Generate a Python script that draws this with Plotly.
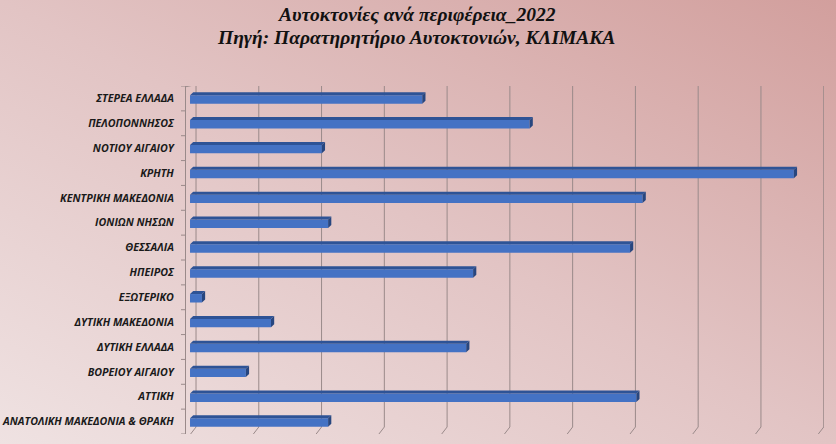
import base64
import plotly.graph_objects as go

# ---- data (top to bottom as in the chart) ----
regions = [
    "ΣΤΕΡΕΑ ΕΛΛΑΔΑ", "ΠΕΛΟΠΟΝΝΗΣΟΣ", "ΝΟΤΙΟΥ ΑΙΓΑΙΟΥ", "ΚΡΗΤΗ",
    "ΚΕΝΤΡΙΚΗ ΜΑΚΕΔΟΝΙΑ", "ΙΟΝΙΩΝ ΝΗΣΩΝ", "ΘΕΣΣΑΛΙΑ", "ΗΠΕΙΡΟΣ",
    "ΕΞΩΤΕΡΙΚΟ", "ΔΥΤΙΚΗ ΜΑΚΕΔΟΝΙΑ", "ΔΥΤΙΚΗ ΕΛΛΑΔΑ", "ΒΟΡΕΙΟΥ ΑΙΓΑΙΟΥ",
    "ΑΤΤΙΚΗ", "ΑΝΑΤΟΛΙΚΗ ΜΑΚΕΔΟΝΙΑ & ΘΡΑΚΗ",
]
values = [3.70, 5.41, 2.10, 9.62, 7.21, 2.20, 7.01, 4.51, 0.19, 1.29, 4.40, 0.89, 7.11, 2.20]
grid_values = [0, 1, 2, 3, 4, 5, 6, 7, 8, 9, 10]

title_line1 = "Αυτοκτονίες ανά περιφέρεια_2022"
title_line2 = "Πηγή: Παρατηρητήριο Αυτοκτονιών, ΚΛΙΜΑΚΑ"

W, H = 836, 444
L, R, T, B = 186, 12, 86, 10
pw, ph = W - L - R, H - T - B

idx = list(range(len(regions)))
x_lo, x_hi = -0.064, 10.1
px_per_x = pw / (x_hi - x_lo)
px_per_y = ph / len(regions)

dx = 3.2 / px_per_x      # depth offset (data units)
dy = 3.0 / px_per_y
gdx = 6.0 / px_per_x     # back wall offset
gdy = 7.0 / px_per_y
bw = 0.34                # front face height (category units)

fig = go.Figure()

# front faces
fig.add_trace(go.Bar(
    y=[i + 0.04 for i in idx], x=values, orientation="h", width=bw,
    marker=dict(color="#4472C4", line=dict(width=0)),
    hoverinfo="skip", showlegend=False,
))

shapes = []
# back-wall gridlines with slanted feet
y_top, y_bot = -0.5 - gdy * 0.2, 13.5 - gdy
for g in grid_values:
    shapes.append(dict(type="line", xref="x", yref="y", layer="below",
                       x0=g + gdx, x1=g + gdx, y0=y_top, y1=y_bot,
                       line=dict(color="#9a8a8a", width=1)))
    shapes.append(dict(type="line", xref="x", yref="y", layer="below",
                       x0=g + gdx, x1=g + gdx * 0.1, y0=y_bot, y1=13.5,
                       line=dict(color="#9a8a8a", width=1)))
# top slant of the axis
shapes.append(dict(type="line", xref="x", yref="y", layer="below",
                   x0=x_lo, x1=gdx, y0=-0.5 + gdy * 0.1, y1=y_top,
                   line=dict(color="#9a8a8a", width=1)))

# 3D top and side faces, derived from values
for i, v in zip(idx, values):
    yc = i + 0.04
    yt, yb = yc - bw / 2, yc + bw / 2
    shapes.append(dict(type="path", xref="x", yref="y",
                       path=f"M 0 {yt} L {v} {yt} L {v + dx} {yt - dy} L {dx} {yt - dy} Z",
                       fillcolor="#2E5396", line=dict(width=0)))
    shapes.append(dict(type="path", xref="x", yref="y",
                       path=f"M {v} {yt} L {v + dx} {yt - dy} L {v + dx} {yb - dy} L {v} {yb} Z",
                       fillcolor="#27467F", line=dict(width=0)))

# tick marks between categories on the front axis
for k in range(len(regions) + 1):
    shapes.append(dict(type="line", xref="paper", yref="y",
                       x0=-5 / pw, x1=0, y0=k - 0.5, y1=k - 0.5,
                       line=dict(color="#9a8a8a", width=1)))

# gradient background as inline SVG
svg = f"""<svg xmlns='http://www.w3.org/2000/svg' width='{W}' height='{H}'>
<defs><linearGradient id='g' x1='0' y1='1' x2='1' y2='0'>
<stop offset='0' stop-color='#efe2e2'/>
<stop offset='0.5' stop-color='#e2c4c4'/>
<stop offset='1' stop-color='#d29f9d'/>
</linearGradient></defs>
<rect width='{W}' height='{H}' fill='url(#g)'/></svg>"""
src = "data:image/svg+xml;base64," + base64.b64encode(svg.encode()).decode()

title_font = dict(family="Liberation Serif", size=19.5, color="#111")
annotations = [
    dict(text=f"<b><i>{title_line1}</i></b>", xref="paper", yref="paper",
         x=(416 - L) / pw, y=1 + (T - 14) / ph, xanchor="center", yanchor="middle",
         showarrow=False, font=title_font),
    dict(text=f"<b><i>{title_line2}</i></b>", xref="paper", yref="paper",
         x=(416 - L) / pw, y=1 + (T - 37) / ph, xanchor="center", yanchor="middle",
         showarrow=False, font=title_font),
]

fig.update_layout(
    width=W, height=H,
    margin=dict(l=L, r=R, t=T, b=B, autoexpand=False),
    paper_bgcolor="#e6cccc", plot_bgcolor="rgba(0,0,0,0)",
    shapes=shapes,
    annotations=annotations,
    images=[dict(source=src, xref="paper", yref="paper",
                 x=-L / pw, y=1 + T / ph, sizex=W / pw, sizey=H / ph,
                 sizing="stretch", layer="below", xanchor="left", yanchor="top")],
    xaxis=dict(range=[x_lo, x_hi], showgrid=False, zeroline=False, automargin=False,
               showticklabels=False, ticks="", showline=False, fixedrange=True),
    yaxis=dict(range=[13.5, -0.5], tickmode="array", tickvals=idx,
               ticktext=[f"<b><i>{r}</i></b>" for r in regions],
               automargin=False,
               showgrid=False, zeroline=False, showline=True, linecolor="#9a8a8a",
               linewidth=1, ticks="", ticklabelstandoff=9,
               tickfont=dict(family="Open Sans", size=10.7, color="#1a1a1a"),
               fixedrange=True),
)

fig.write_html("out.html", config={"displayModeBar": False},
               post_script="document.body.style.margin='0';document.body.style.overflow='hidden';")
